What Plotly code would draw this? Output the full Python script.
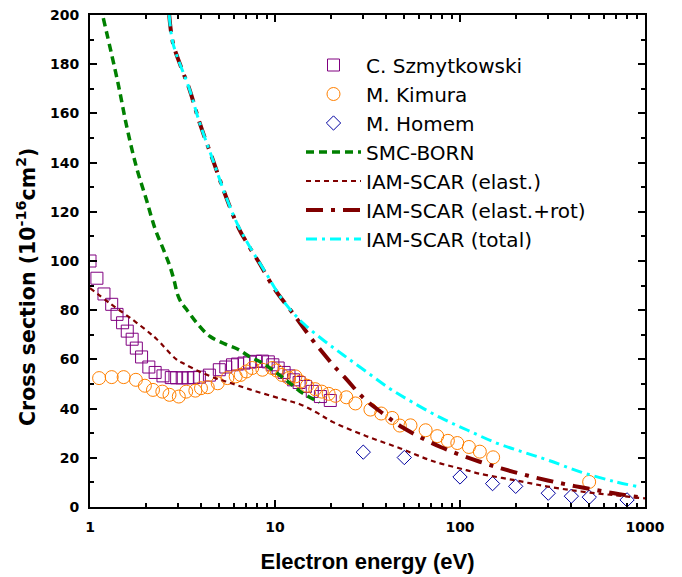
import plotly.graph_objects as go

# ---------------- data ----------------
szm_E = [1.0, 1.09, 1.19, 1.31, 1.40, 1.50, 1.59, 1.69, 1.78, 1.90, 2.08, 2.25, 2.48,
         2.75, 2.94, 3.15, 3.38, 3.62, 3.90, 4.42, 5.0, 5.42, 5.89, 6.27, 6.8, 7.3,
         7.86, 8.55, 9.2, 9.74, 10.4, 11.2, 11.9, 12.6, 13.5, 14.6, 15.9, 17.6, 19.9]
szm_S = [100, 93, 86.6, 82.4, 78.3, 74.9, 71.5, 68.2, 64.6, 61, 56.9, 54.7, 53.3,
         52.6, 52.5, 52.5, 52.5, 52.6, 52.8, 53.6, 55.8, 56.9, 57.8, 58.1, 58.5, 58.9,
         59.2, 59.3, 59, 57.8, 56.5, 54.7, 53.3, 51.7, 50.6, 49, 47, 44.9, 43.3]

kim_E = [1.12, 1.31, 1.52, 1.77, 1.98, 2.19, 2.46, 2.69, 3.02, 3.31, 3.71, 3.98, 4.33,
         4.90, 5.53, 6.13, 6.52, 7.0, 7.53, 8.55, 9.66, 10.2, 10.9, 11.9, 12.9, 13.7,
         14.9, 16.5, 17.9, 19.5, 21.2, 24.3, 27.2, 32.8, 37.5, 43, 47.3, 54, 65.2,
         75.3, 86, 96.7, 111.7, 128, 151, 499]
kim_S = [52.4, 52.8, 52.8, 51.7, 49.3, 47.6, 46.9, 45.6, 44.9, 46.9, 47.3, 48.3, 48.7,
         50.3, 52.4, 53.1, 53.7, 55.1, 56.5, 55.8, 56.5, 55.5, 53.7, 52.4, 53.1, 51,
         49.3, 47.9, 46.9, 46, 45.2, 44.6, 42.1, 39.6, 38, 36.2, 33.1, 33.2, 31.2,
         28.8, 26.9, 26, 24.4, 22.5, 20.2, 10.2]

hom_E = [30, 50, 100, 150, 200, 300, 400, 500, 800]
hom_S = [22.3, 20.1, 12.2, 9.5, 8.4, 5.6, 4.4, 4.0, 2.9]

smc_E = [1.18, 1.42, 1.58, 1.78, 2.02, 2.25, 2.5, 2.7, 2.85, 2.97, 3.12, 3.35, 3.76,
         4.44, 5.35, 6.30, 7.30, 8.62, 10.2, 11.97, 14.1, 17.4]
smc_S = [198.7, 172, 154.6, 138.3, 124.8, 113, 104.5, 98, 92, 86.5, 83, 80, 75,
         69.4, 66.3, 64.1, 61.1, 58.4, 54.5, 50.5, 46.3, 42.5]

el_E = [1.0, 1.28, 1.71, 2.11, 2.29, 2.93, 3.19, 3.92, 4.83, 5.44, 7.3, 11.0, 13.6,
        16.7, 20.6, 31.2, 47.3, 71.6, 108, 128, 194, 298, 451, 680, 1000]
el_S = [89, 82.8, 76, 70.6, 68.3, 60, 58.4, 55, 52.2, 51.0, 47.8, 43.8, 41.8,
        38.5, 34.5, 28.8, 23.9, 18.6, 15, 13.5, 11, 8.3, 6.3, 4.8, 3.5]

er_E = [2.68, 2.81, 3.1, 3.46, 3.92, 4.62, 5.44, 6.4, 7.3, 8.26, 9.96, 12.5, 16.1,
        18.9, 21, 24.3, 29.9, 38.5, 49.3, 78.5, 128, 194, 298, 451, 680, 1000]
er_S = [200, 188.5, 179, 169.5, 156, 141, 126, 113, 105.5, 99, 88.5, 78.7, 67.5,
        61.1, 57, 52, 44.5, 37.9, 32.2, 24.4, 18.4, 14.3, 10.8, 8.0, 5.6, 3.6]

tot_E = [2.68, 2.81, 3.46, 3.92, 4.62, 5.44, 6.3, 7.3, 8.95, 11.0, 14.2, 18.5, 23.4,
         31, 41.6, 55, 78.5, 110, 157.5, 220, 298, 451, 680, 900]
tot_S = [200, 188.5, 169.5, 156, 141, 126, 114.6, 105.8, 95, 84.1, 74.7, 67.5, 61.8,
         55.1, 48.2, 42.7, 36.3, 31.2, 26, 22.3, 19.1, 14.2, 10.4, 8.4]

x_major = [1, 10, 100, 1000]
x_major_text = ["1", "10", "100", "1000"]
x_minor = [2, 3, 4, 5, 6, 7, 8, 9, 20, 30, 40, 50, 60, 70, 80, 90,
           200, 300, 400, 500, 600, 700, 800, 900]

# ---------------- figure ----------------
# The page body has an 8 px default margin, so the figure is sized/margined
# to put the plot frame at x 90..645, y 15..507 of the 682x577 window.
OFF = 8
fig = go.Figure()

def marker_trace(x, y, name, symbol, color, size):
    fig.add_trace(go.Scatter(
        x=x, y=y, mode="markers", name=name,
        marker=dict(symbol=symbol, size=size, color=color, line=dict(color=color, width=1))))

def line_trace(x, y, name, color, width, dash):
    fig.add_trace(go.Scatter(
        x=x, y=y, mode="lines", name=name, line_shape="spline",
        line=dict(color=color, width=width, dash=dash)))

marker_trace(szm_E, szm_S, "C. Szmytkowski", "square-open", "#800080", 12)
marker_trace(kim_E, kim_S, "M. Kimura", "circle-open", "#FF8000", 13)
marker_trace(hom_E, hom_S, "M. Homem", "diamond-open", "#0000A0", 11)
line_trace(smc_E, smc_S, "SMC-BORN", "#008000", 3.5, "8px,5px")
line_trace(el_E, el_S, "IAM-SCAR (elast.)", "#800000", 2.2, "5px,4px")
line_trace(er_E, er_S, "IAM-SCAR (elast.+rot)", "#800000", 4, "17px,8px,4px,8px")
line_trace(tot_E, tot_S, "IAM-SCAR (total)", "#00FFFF", 3, "11px,5px,3px,5px")

tick_font = dict(family="DejaVu Sans", size=14, color="black", weight="bold")

fig.update_layout(
    width=682 - OFF, height=577 - OFF,
    margin=dict(l=90 - OFF, r=37, t=15 - OFF, b=70, autoexpand=False),
    paper_bgcolor="white", plot_bgcolor="white",
    showlegend=True,
    legend=dict(x=(301 - 90) / 555, y=(507 - 45.5) / 492, xanchor="left", yanchor="top",
                bgcolor="rgba(0,0,0,0)", borderwidth=0, itemwidth=55,
                font=dict(family="DejaVu Sans", size=20, color="black")),
    xaxis=dict(
        type="log", range=[0, 3], automargin=False,
        tickmode="array", tickvals=x_major, ticktext=x_major_text,
        ticks="inside", ticklen=7, tickwidth=2, tickcolor="black",
        minor=dict(tickmode="array", tickvals=x_minor, ticks="inside",
                   ticklen=4, tickwidth=1.5, tickcolor="black", showgrid=False),
        showline=True, linewidth=2, linecolor="black", mirror="allticks",
        showgrid=False, zeroline=False, tickfont=tick_font, ticklabelstandoff=6,
        ticklabeloverflow="allow",
        title=dict(text="Electron energy (eV)", standoff=20,
                   font=dict(family="Liberation Sans", size=22, color="black", weight="bold")),
    ),
    yaxis=dict(
        range=[0, 200], dtick=20, tick0=0, automargin=False,
        ticks="inside", ticklen=7, tickwidth=2, tickcolor="black",
        minor=dict(dtick=10, ticks="inside", ticklen=4, tickwidth=1.5,
                   tickcolor="black", showgrid=False),
        showline=True, linewidth=2, linecolor="black", mirror="allticks",
        showgrid=False, zeroline=False, tickfont=tick_font, ticklabelstandoff=6,
        ticklabeloverflow="allow",
    ),
    annotations=[dict(
        text="Cross section (10<sup>-16</sup>cm<sup>2</sup>)",
        xref="paper", yref="paper", x=(26 - 90) / 555, y=(507 - 287) / 492,
        xanchor="center", yanchor="middle", textangle=-90, showarrow=False,
        font=dict(family="DejaVu Sans", size=20.5, color="black", weight="bold"))],
)

fig.write_html("out.html")
